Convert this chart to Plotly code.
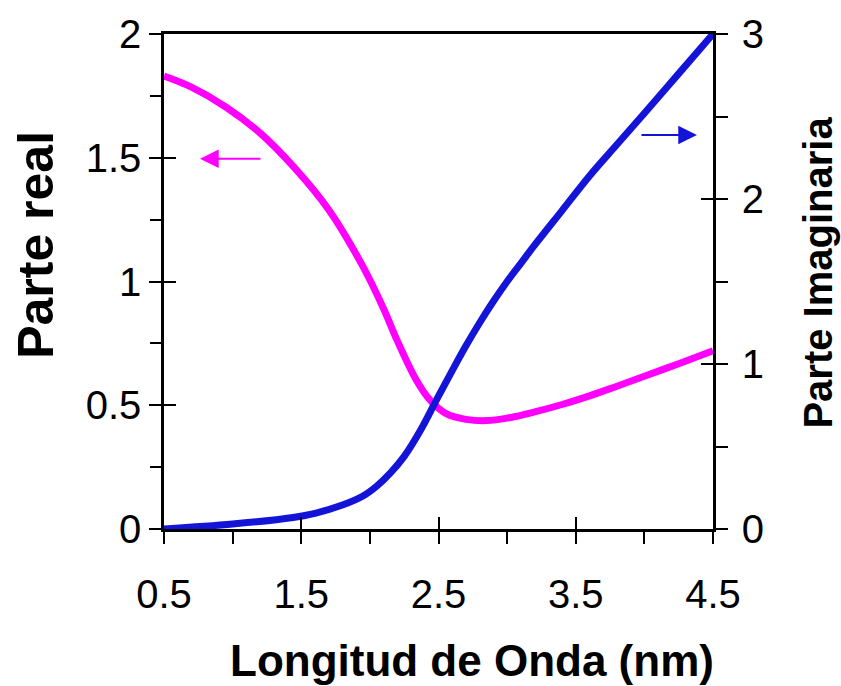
import plotly.graph_objects as go

# Data
real_x = [0.5, 0.7, 0.95, 1.2, 1.45, 1.7, 1.95, 2.1, 2.2, 2.34, 2.44, 2.56, 2.7, 2.85, 3.0, 3.2, 3.4, 3.6, 3.8, 4.0, 4.25, 4.5]
real_y = [1.83, 1.785, 1.705, 1.60, 1.46, 1.29, 1.06, 0.89, 0.76, 0.60, 0.52, 0.465, 0.443, 0.438, 0.448, 0.473, 0.503, 0.538, 0.577, 0.617, 0.668, 0.72]

imag_x = [0.5, 1.0, 1.44, 1.6, 1.8, 1.95, 2.05, 2.15, 2.25, 2.37, 2.49, 2.6, 2.7, 2.8, 2.9, 3.0, 3.1, 3.2, 3.4, 3.6, 3.8, 4.0, 4.25, 4.5]
imag_y = [0.0, 0.03, 0.07, 0.095, 0.145, 0.20, 0.26, 0.34, 0.44, 0.60, 0.79, 0.96, 1.11, 1.25, 1.38, 1.50, 1.61, 1.72, 1.93, 2.14, 2.33, 2.52, 2.76, 3.0]

x_ticks = [0.5, 1.5, 2.5, 3.5, 4.5]
x_labels = ["0.5", "1.5", "2.5", "3.5", "4.5"]
x_minor = [1.0, 2.0, 3.0, 4.0]
y1_ticks = [0, 0.5, 1, 1.5, 2]
y1_labels = ["0", "0.5", "1", "1.5", "2"]
y1_minor = [0.25, 0.75, 1.25, 1.75]
y2_ticks = [0, 1, 2, 3]
y2_labels = ["0", "1", "2", "3"]
y2_minor = [0.5, 1.5, 2.5]

MAGENTA = "#FF00FF"
BLUE = "#1414D8"
FONT = "Liberation Sans, Arial, sans-serif"

fig = go.Figure()
fig.add_trace(go.Scatter(x=real_x, y=real_y, mode="lines",
                         line=dict(color=MAGENTA, width=7, shape="spline", smoothing=1.0),
                         yaxis="y", showlegend=False, hoverinfo="skip"))
fig.add_trace(go.Scatter(x=imag_x, y=imag_y, mode="lines",
                         line=dict(color=BLUE, width=7, shape="spline", smoothing=1.0),
                         yaxis="y2", showlegend=False, hoverinfo="skip"))

tickfont = dict(family=FONT, size=40, color="black")
axcommon = dict(showgrid=False, zeroline=False, linecolor="black", linewidth=2.5,
                tickcolor="black", tickwidth=2, ticklen=12)

fig.update_layout(
    width=841, height=686,
    margin=dict(l=164, r=128, t=29, b=157),
    paper_bgcolor="white", plot_bgcolor="white",
    xaxis=dict(range=[0.5, 4.5], tickvals=x_ticks, ticktext=x_labels, ticks="outside",
               showline=True, mirror=True, tickfont=tickfont, ticklabelstandoff=16,
               minor=dict(tickvals=x_minor, ticks="outside", ticklen=12, tickcolor="black", tickwidth=2),
               **axcommon),
    yaxis=dict(range=[0, 2], tickvals=y1_ticks, ticktext=y1_labels, ticks="outside",
               showline=True, mirror=True, tickfont=tickfont,
               minor=dict(tickvals=y1_minor, ticks="outside", ticklen=11, tickcolor="black", tickwidth=2),
               **axcommon),
    yaxis2=dict(range=[0, 3], tickvals=y2_ticks, ticktext=y2_labels, ticks="outside",
                overlaying="y", side="right", anchor="x",
                showline=True, tickfont=tickfont, ticklabelstandoff=6,
                minor=dict(tickvals=y2_minor, ticks="outside", ticklen=12, tickcolor="black", tickwidth=2),
                **axcommon),
    # overlay axes providing the inner half of the crossing major ticks
    xaxis3=dict(range=[0.5, 4.5], overlaying="x", anchor="y", side="bottom",
                tickvals=x_ticks, ticks="inside", showticklabels=False, showline=False,
                showgrid=False, zeroline=False, tickcolor="black", tickwidth=2, ticklen=12),
    yaxis3=dict(range=[0, 2], overlaying="y", anchor="x", side="left",
                tickvals=y1_ticks, ticks="inside", showticklabels=False, showline=False,
                showgrid=False, zeroline=False, tickcolor="black", tickwidth=2, ticklen=12),
    yaxis4=dict(range=[0, 3], overlaying="y", anchor="x", side="right",
                tickvals=y2_ticks, ticks="inside", showticklabels=False, showline=False,
                showgrid=False, zeroline=False, tickcolor="black", tickwidth=2, ticklen=12),
)

# invisible traces so the overlay axes get drawn
fig.add_trace(go.Scatter(x=[None], y=[None], xaxis="x3", yaxis="y3", showlegend=False, hoverinfo="skip"))
fig.add_trace(go.Scatter(x=[None], y=[None], xaxis="x3", yaxis="y4", showlegend=False, hoverinfo="skip"))

# axis titles
fig.add_annotation(text="<b>Longitud de Onda (nm)</b>", xref="paper", yref="paper",
                   x=(472 - 164) / 549, y=-(662 - 529) / 500, showarrow=False,
                   font=dict(family=FONT, size=44, color="black"), xanchor="center", yanchor="middle")
fig.add_annotation(text="<b>Parte real</b>", xref="paper", yref="paper",
                   x=(36 - 164) / 549, y=(529 - 242) / 500, textangle=-90, showarrow=False,
                   font=dict(family=FONT, size=50, color="black"), xanchor="center", yanchor="middle")
fig.add_annotation(text="<b>Parte Imaginaria</b>", xref="paper", yref="paper",
                   x=(818 - 164) / 549, y=(529 - 270) / 500, textangle=-90, showarrow=False,
                   font=dict(family=FONT, size=40, color="black"), xanchor="center", yanchor="middle")

# arrows indicating which axis each curve belongs to
fig.add_annotation(x=0.762, y=1.496, ax=1.214, ay=1.496, xref="x", yref="y", axref="x", ayref="y",
                   showarrow=True, arrowhead=2, arrowsize=1.7, arrowwidth=2.2, arrowcolor=MAGENTA, text="")
fig.add_annotation(x=4.383, y=2.388, ax=3.968, ay=2.388, xref="x", yref="y2", axref="x", ayref="y2",
                   showarrow=True, arrowhead=2, arrowsize=1.7, arrowwidth=2.2, arrowcolor=BLUE, text="")

fig.write_html("out.html")
